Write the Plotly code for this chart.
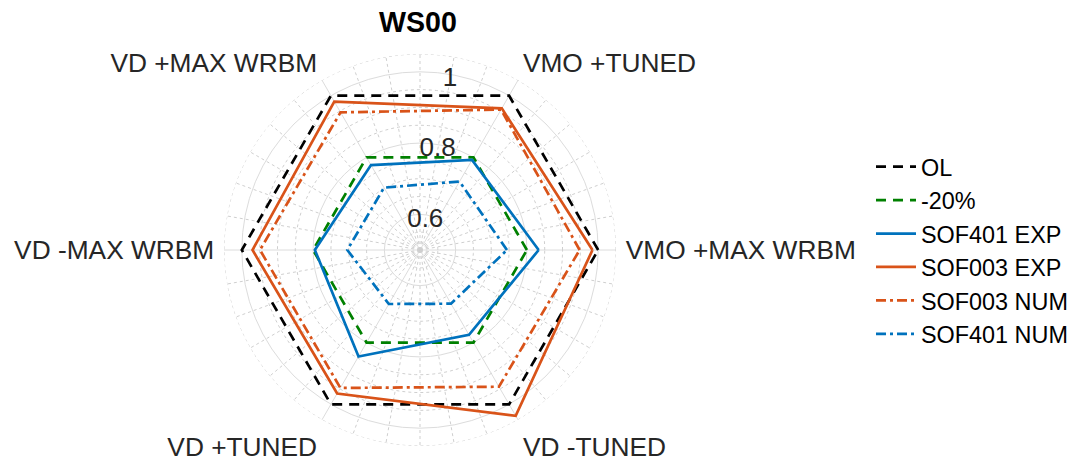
import plotly.graph_objects as go

# Load-case directions around the polar plot (counter-clockwise from 0 deg)
categories = ["VMO +MAX WRBM", "VMO +TUNED", "VD +MAX WRBM",
              "VD -MAX WRBM", "VD +TUNED", "VD -TUNED"]

# Normalised peak loads per direction
ol = [1.0, 1.0, 1.0, 1.0, 1.0, 1.0]
minus20 = [0.8, 0.8, 0.8, 0.8, 0.8, 0.8]
sof401_exp = [0.833, 0.792, 0.775, 0.795, 0.845, 0.775]
sof003_exp = [0.984, 0.959, 0.981, 0.970, 0.965, 1.037]
sof003_num = [0.948, 0.955, 0.946, 0.949, 0.947, 0.943]
sof401_num = [0.744, 0.722, 0.702, 0.704, 0.675, 0.674]

r_ticks = [0.6, 0.8, 1.0]
r_tick_text = ["0.6", "0.8", "1"]
r_minor = [0.55, 0.65, 0.7, 0.75, 0.85, 0.9, 0.95, 1.05]
r_range = [0.5, 1.05]
r_label_angle = 80

BLUE = "#0072BD"
ORANGE = "#D95319"
GREEN = "#008000"
BLACK = "#000000"
TEXT = "#262626"
FONT = "Liberation Sans, Arial, Helvetica, sans-serif"

step = 360 / len(categories)
thetas = [i * step for i in range(len(categories))]


def closed(vals):
    return list(vals) + [vals[0]]


fig = go.Figure()

# Minor grid: dotted spokes every 10 degrees and dotted rings
spoke_r, spoke_t = [], []
for a in range(0, 360, 10):
    if a % int(step) == 0:
        continue
    spoke_r += [r_range[0], r_range[1], None]
    spoke_t += [a, a, None]
fig.add_trace(go.Scatterpolar(r=spoke_r, theta=spoke_t, mode="lines",
                              line=dict(color="#cfcfcf", width=1, dash="dot"),
                              hoverinfo="skip", showlegend=False))
ring_t = list(range(0, 361, 2))
for rv in r_minor:
    fig.add_trace(go.Scatterpolar(r=[rv] * len(ring_t), theta=ring_t, mode="lines",
                                  line=dict(color="#cfcfcf", width=1, dash="dot"),
                                  hoverinfo="skip", showlegend=False))

series = [
    ("OL", ol, BLACK, "10px,7px"),
    ("-20%", minus20, GREEN, "10px,7px"),
    ("SOF401 EXP", sof401_exp, BLUE, "solid"),
    ("SOF003 EXP", sof003_exp, ORANGE, "solid"),
    ("SOF003 NUM", sof003_num, ORANGE, "10px,4px,3px,4px"),
    ("SOF401 NUM", sof401_num, BLUE, "10px,4px,3px,4px"),
]
for name, vals, color, dash in series:
    fig.add_trace(go.Scatterpolar(
        r=closed(vals), theta=closed(thetas), mode="lines", name=name,
        line=dict(color=color, width=2.7, dash=dash)))

# Radial tick labels sit on the 80 degree spoke, nudged just inside each ring
label_inset = 0.015
fig.add_trace(go.Scatterpolar(
    r=[t - label_inset for t in r_ticks], theta=[r_label_angle] * len(r_ticks),
    mode="text", text=r_tick_text, textposition="middle center",
    textfont=dict(size=26, color=TEXT, family=FONT),
    hoverinfo="skip", showlegend=False))

fig.update_layout(
    width=1074, height=461,
    margin=dict(l=0, r=0, t=0, b=0),
    paper_bgcolor="white", plot_bgcolor="white",
    font=dict(family=FONT, size=26, color=TEXT),
    title=dict(text="<b>WS00</b>", x=418 / 1074, xanchor="center",
               y=1 - 22 / 461, yanchor="middle",
               font=dict(size=28.6, color="black", family=FONT)),
    polar=dict(
        domain=dict(x=[224 / 1074, 616 / 1074], y=[15 / 461, 407 / 461]),
        bgcolor="white",
        radialaxis=dict(range=r_range, tickvals=r_ticks, showticklabels=False,
                        ticks="", showline=False, gridcolor="#dcdcdc",
                        gridwidth=1, angle=r_label_angle),
        angularaxis=dict(tickmode="array", tickvals=thetas, ticktext=categories,
                         direction="counterclockwise", rotation=0,
                         showline=False, ticks="outside", ticklen=4,
                         tickcolor="rgba(0,0,0,0)", gridcolor="#dcdcdc",
                         gridwidth=1,
                         tickfont=dict(size=26.3, color=TEXT, family=FONT)),
    ),
    legend=dict(x=871 / 1074, xanchor="left", y=1 - 145 / 461, yanchor="top",
                font=dict(size=23.4, color="black", family=FONT),
                bgcolor="rgba(0,0,0,0)", borderwidth=0, itemwidth=40,
                tracegroupgap=0),
)

fig.write_html("out.html")
